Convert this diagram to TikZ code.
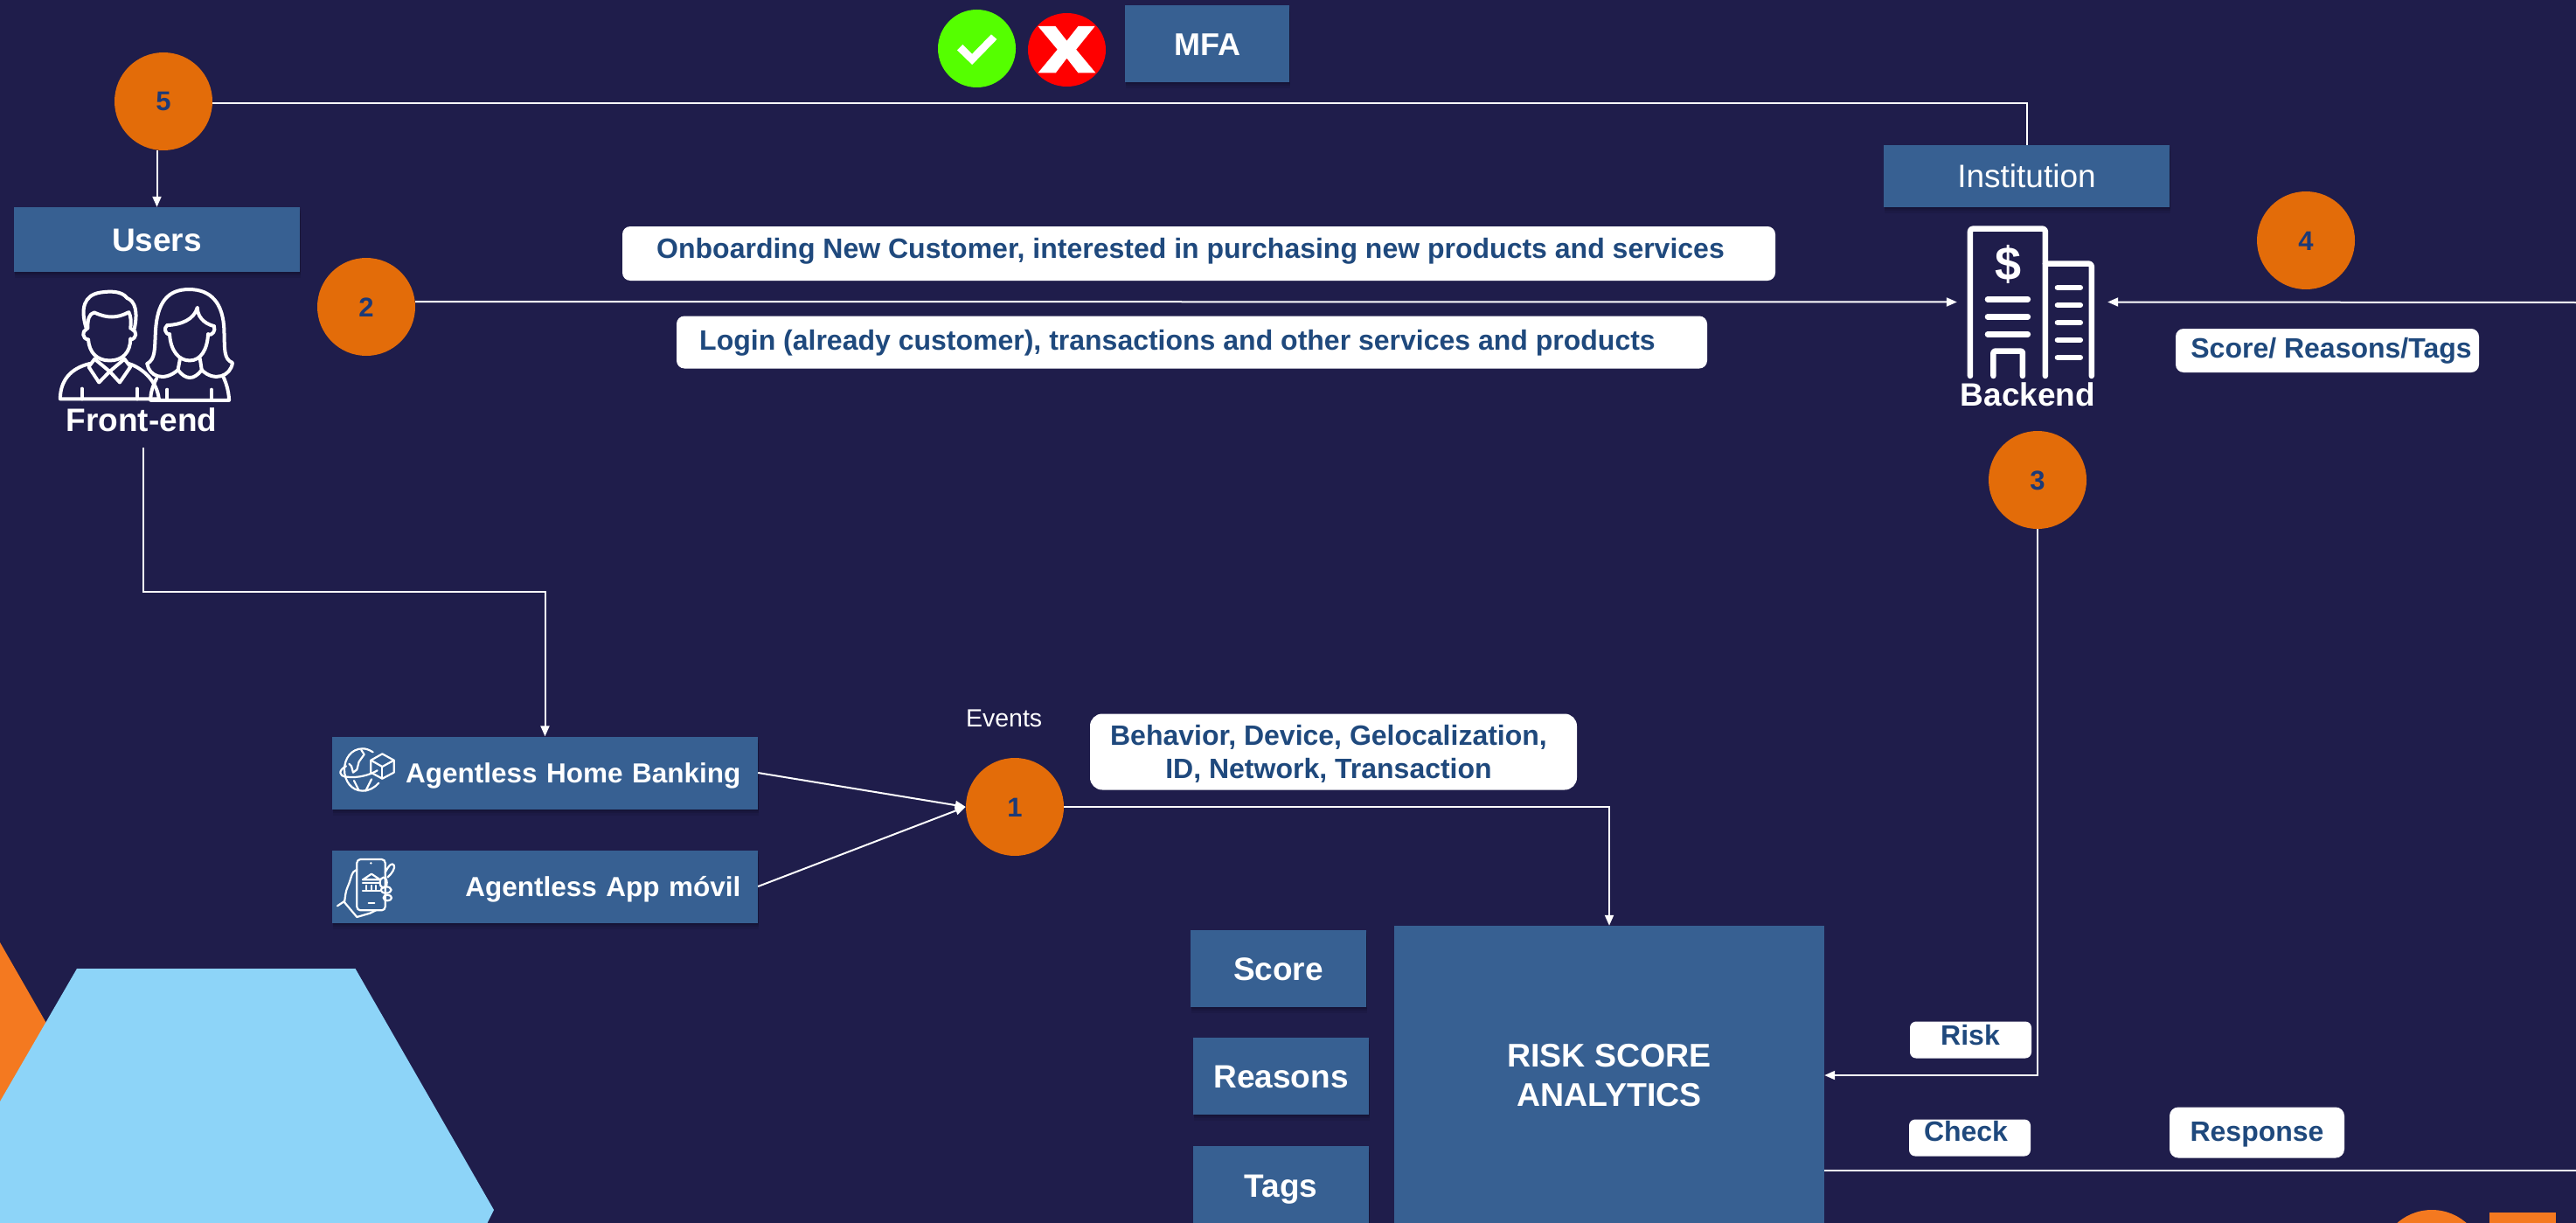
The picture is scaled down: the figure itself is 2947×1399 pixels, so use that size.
\documentclass[tikz,border=0pt]{standalone}
\usepackage{fontspec}
\setmainfont{Liberation Sans}
\usetikzlibrary{arrows.meta,shadows,shapes.geometric}
\definecolor{bgc}{HTML}{1F1D4B}
\definecolor{boxc}{HTML}{376092}
\definecolor{numc}{HTML}{E36C09}
\definecolor{lblc}{HTML}{1F497D}
\definecolor{digc}{HTML}{1C3A78}
\definecolor{orgc}{HTML}{F47920}
\definecolor{skyc}{HTML}{8DD4F8}
\definecolor{grnc}{HTML}{55FF00}
\newcommand{\fsz}[2]{\fontsize{#1pt}{#2pt}\selectfont}
\tikzset{
  softshade/.style={
    general shadow={fill=black,opacity=.07,shadow xshift=1pt,shadow yshift=-7pt},
    general shadow={fill=black,opacity=.09,shadow xshift=1pt,shadow yshift=-4pt},
    general shadow={fill=black,opacity=.10,shadow xshift=1pt,shadow yshift=-2pt}},
  bluebox/.style={rectangle,fill=boxc,softshade,text=white,inner sep=0pt,
    font=\bfseries\fsz{37}{44},text height=26.5pt,text depth=0pt},
  agentbox/.style={rectangle,fill=boxc,softshade,text=white,inner xsep=19.5pt,inner ysep=0pt,
    text width=448pt,align=right,minimum height=83pt,
    font=\bfseries\fsz{31.5}{38},text height=23pt,text depth=0pt},
  stepnum/.style={circle,fill=numc,minimum size=112pt,inner sep=0pt,text=digc,
    font=\bfseries\fsz{31}{36},text height=22pt,text depth=0pt},
  whitebox/.style={rectangle,rounded corners=9pt,fill=white,inner sep=0pt},
  lbl/.style={text=lblc,inner sep=0pt,font=\bfseries\fsz{32}{38},text height=23pt,text depth=0pt},
  lblmulti/.style={text=lblc,inner sep=0pt,align=center,font=\bfseries\fsz{32}{38}},
  iconlabel/.style={text=white,inner sep=0pt,font=\bfseries\fsz{37}{44},text height=26.5pt,text depth=0pt},
  conn/.style={draw=white,line width=2pt},
  arr/.style={conn,-{Triangle[length=12pt,width=10pt,fill=white]}},
  ico/.style={draw=white,line cap=round,line join=round},
}
\begin{document}
\begin{tikzpicture}[x=1pt,y=-1pt]
\useasboundingbox (0,0) rectangle (2947,1399);
\clip (0,0) rectangle (2947,1399);
\fill[bgc] (0,0) rectangle (2947,1399);

% decorative corner shapes
\fill[orgc] (0,1078) -- (70,1200) -- (0,1260) -- cycle;
\fill[skyc] (88,1108) -- (406.5,1108) -- (565,1384) -- (557.5,1399) -- (0,1399) -- (0,1260) -- cycle;
\fill[orgc] (2782,1444) circle [radius=60];
\fill[orgc] (2848,1387) rectangle (2924,1399);

% top: ok / fail / MFA
\node[ellipse,fill=grnc,minimum width=89pt,minimum height=89pt,inner sep=0pt] (okmark) at (1117.5,55.5) {};
\node[ellipse,fill=red,minimum width=89pt,minimum height=84pt,inner sep=0pt] (failmark) at (1220.5,57) {};
\begin{scope}[shift={(1000,0)},x=.3827pt,y=-.3333pt]
  \fill[white] (248,172) -- (265,153) -- (293,185) -- (350,118) -- (367,135) -- (293,222) -- cycle;
  \fill[white] (490,90) -- (542,90) -- (576,140) -- (610,90) -- (660,90) -- (604,170) -- (662,250)
     -- (610,250) -- (576,200) -- (543,250) -- (490,250) -- (548,170) -- cycle;
\end{scope}
\node[bluebox,minimum width=188pt,minimum height=88pt,font=\bfseries\fsz{36}{44}] (mfa) at (1381,50) {MFA};

% boxes
\node[bluebox,minimum width=327pt,minimum height=74pt] (users) at (179.5,274) {Users};
\node[bluebox,minimum width=327pt,minimum height=71pt,font=\fsz{37}{44}] (inst) at (2318.5,201.5) {Institution};
\node[agentbox] (hb) at (623.5,884) {Agentless Home Banking};
\node[agentbox] (app) at (623.5,1014) {Agentless App móvil};
\node[bluebox,minimum width=201pt,minimum height=88pt] (score) at (1462.5,1108) {Score};
\node[bluebox,minimum width=201pt,minimum height=88pt] (reasons) at (1465.5,1231) {Reasons};
\node[bluebox,minimum width=201pt,minimum height=90pt] (tags) at (1465.5,1356) {Tags};
\node[rectangle,fill=boxc,text=white,inner sep=0pt,minimum width=492pt,minimum height=342pt,align=center,
      font=\bfseries\fsz{37.5}{44.5}] (risk) at (1841,1230) {RISK SCORE\\ANALYTICS};

% numbered circles
\node[stepnum] (c5) at (187,116) {5};
\node[stepnum] (c2) at (419,351) {2};
\node[stepnum] (c4) at (2638,275) {4};
\node[stepnum] (c3) at (2331,549) {3};
\node[stepnum] (c1) at (1161,923) {1};

% white labels
\node[whitebox,minimum width=1319pt,minimum height=62pt] (onbbox) at (1371.5,290) {};
\node[lbl] (onbtxt) at (1362,284) {Onboarding New Customer, interested in purchasing new products and services};
\node[whitebox,minimum width=1179pt,minimum height=60pt] (logbox) at (1363.5,391.5) {};
\node[lbl] (logtxt) at (1347,389) {Login (already customer), transactions and other services and products};
\node[whitebox,rounded corners=14pt,minimum width=557pt,minimum height=87pt] (behbox) at (1525.5,860) {};
\node[lblmulti] (behtxt) at (1520,862) {Behavior, Device, Gelocalization,\\ID, Network, Transaction};
\node[whitebox,minimum width=347pt,minimum height=50pt] (srtbox) at (2662.5,401) {};
\node[lbl] (srttxt) at (2667,398) {Score/ Reasons/Tags};
\node[whitebox,rounded corners=7pt,minimum width=139pt,minimum height=42pt] (riskbox) at (2254.5,1189.5) {};
\node[lbl] (risktxt) at (2254,1184) {Risk};
\node[whitebox,rounded corners=7pt,minimum width=139pt,minimum height=42pt] (chkbox) at (2253.5,1301.5) {};
\node[lbl] (chktxt) at (2249,1294) {Check};
\node[whitebox,rounded corners=10pt,minimum width=200pt,minimum height=58pt] (resbox) at (2582,1295.5) {};
\node[lbl] (restxt) at (2582,1294) {Response};
\node[text=white,inner sep=0pt,font=\fsz{28.5}{34},text height=20.5pt,text depth=0pt] (events) at (1148.6,821) {Events};

% people icon
\begin{scope}[x=.3827pt,y=-.3571pt,ico,line width=4pt]
  \draw (258,1052) .. controls (240,990) and (250,945) .. (300,937) .. controls (330,932) and (365,932) .. (380,955)
        .. controls (405,965) and (412,1000) .. (402,1052);
  \draw (262,1052) .. controls (262,1025) and (265,1005) .. (282,1001) .. controls (320,1020) and (350,1020) .. (385,1000)
        .. controls (392,1015) and (392,1030) .. (390,1052);
  \draw (258,1055) .. controls (245,1060) and (245,1085) .. (264,1088);
  \draw (395,1055) .. controls (410,1060) and (410,1085) .. (390,1088);
  \draw (264,1088) .. controls (267,1130) and (290,1155) .. (328,1155) .. controls (365,1155) and (390,1130) .. (390,1085);
  \draw (283,1150) -- (265,1175) -- (296,1225) -- (328,1190) -- (358,1225) -- (390,1175) -- (372,1150);
  \draw (283,1150) -- (328,1190) -- (372,1150);
  \draw (268,1165) .. controls (210,1180) and (180,1220) .. (180,1278) -- (475,1278);
  \draw (385,1165) .. controls (430,1180) and (470,1225) .. (475,1278);
  \draw (245,1245) -- (245,1278);
  \draw (410,1245) -- (410,1278);
  \draw (440,1165) .. controls (465,1150) and (462,1120) .. (465,1060) .. controls (470,970) and (500,927) .. (565,927)
        .. controls (630,927) and (668,970) .. (670,1060) .. controls (672,1120) and (668,1150) .. (695,1162)
        .. controls (690,1205) and (640,1225) .. (603,1185);
  \draw (440,1165) .. controls (445,1205) and (490,1225) .. (532,1185);
  \draw (538,1150) -- (532,1185) .. controls (555,1218) and (580,1218) .. (603,1185) -- (598,1150);
  \draw (500,1042) .. controls (540,1040) and (580,1025) .. (590,985) .. controls (590,1010) and (605,1035) .. (640,1045);
  \draw (500,1042) .. controls (488,1050) and (495,1072) .. (507,1072);
  \draw (640,1045) .. controls (645,1060) and (635,1075) .. (622,1072);
  \draw (507,1070) .. controls (510,1125) and (535,1155) .. (567,1155) .. controls (600,1155) and (620,1120) .. (622,1070);
  \draw (468,1212) .. controls (455,1240) and (450,1260) .. (450,1282) -- (685,1282) .. controls (683,1250) and (677,1230) .. (668,1208);
  \draw (500,1248) -- (500,1280);
  \draw (632,1248) -- (632,1280);
\end{scope}
\node[iconlabel] (fe) at (162,480) {Front-end};

% building icon
\node[rectangle,inner sep=0pt,minimum width=172pt,minimum height=173pt] (bld) at (2325,345.5) {};
\begin{scope}[shift={(2100,150)},x=.5402pt,y=-.3333pt,ico,line width=6.5pt]
  \draw[rounded corners=3pt] (285,840) -- (285,335) -- (444,335) -- (444,840);
  \draw[rounded corners=3pt] (444,455) -- (542,455) -- (542,840);
  \draw (322,577) -- (407,577);
  \draw (322,637) -- (407,637);
  \draw (322,697) -- (407,697);
  \draw[rounded corners=2pt] (334,840) -- (334,755) -- (396,755) -- (396,840);
  \draw (470,537) -- (518,537);
  \draw (470,597) -- (518,597);
  \draw (470,657) -- (518,657);
  \draw (470,717) -- (518,717);
  \draw (470,777) -- (518,777);
\end{scope}
\node[text=white,inner sep=0pt,font=\bfseries\fsz{54}{60}] (dollar) at (2297,302) {\$};
\node[iconlabel] (be) at (2320,451) {Backend};

% globe + cube icon
\begin{scope}[shift={(380,843)},x=.3333pt,y=-.3333pt,ico,line width=2.2pt]
  \draw (140,52) .. controls (125,43) and (115,40) .. (105,40) .. controls (65,40) and (42,75) .. (42,112)
        .. controls (42,150) and (65,185) .. (105,185) .. controls (125,185) and (145,175) .. (160,158);
  \draw (48,100) .. controls (20,115) and (22,135) .. (50,137) .. controls (90,142) and (130,130) .. (155,115);
  \draw (100,45) -- (110,60) -- (92,85) -- (85,112) -- (72,122) -- (66,100) -- (58,92);
  \draw (75,150) -- (90,180);
  \draw (135,145) -- (125,165) -- (115,185);
  \draw (172,58) -- (212,80) -- (212,122) -- (172,143) -- (133,122) -- (133,80) -- cycle;
  \draw (133,80) -- (172,102) -- (212,80);
  \draw (172,102) -- (172,143);
\end{scope}

% phone in hand icon
\begin{scope}[shift={(380,973)},x=.3333pt,y=-.3333pt,ico,line width=2.2pt]
  \draw[rounded corners=4pt] (85,30) rectangle (182,205);
  \fill[white] (133,43) circle [radius=4];
  \draw (105,100) -- (135,80) -- (165,100) -- cycle;
  \draw (105,110) -- (165,110);
  \draw (118,120) -- (118,133);
  \draw (135,120) -- (135,133);
  \draw (150,120) -- (150,133);
  \draw (105,137) -- (165,137);
  \draw (125,180) -- (145,180);
  \draw (85,65) .. controls (65,70) and (65,100) .. (55,120) .. controls (45,140) and (45,160) .. (42,178);
  \draw (18,190) -- (40,175) -- (85,228) -- (130,215) -- (150,205);
  \draw (182,75) .. controls (195,50) and (205,40) .. (212,50) .. controls (218,58) and (205,80) .. (190,92);
  \draw (176,110) ellipse [x radius=12,y radius=18];
  \draw (185,135) ellipse [x radius=18,y radius=11];
  \draw (190,162) ellipse [x radius=14,y radius=10];
\end{scope}

% connectors
\coordinate (rin) at (2947,346);
\coordinate (rout) at (2947,1339);
\draw[arr] (users.north |- c5.south) -- (users.north);
\draw[conn] ([yshift=-2pt]c5.east) -| (inst.north);
\draw[arr] ([yshift=6pt]c2.east) -- (bld.west);
\draw[arr] (rin) -- (bld.east);
\draw[arr] ([xshift=2pt,yshift=-19pt]fe.south) -- ++(0,164.5) -| (hb.north);
\draw[arr] (hb.east) -- (c1.west);
\draw[arr] (app.east) -- (c1.west);
\draw[arr] (c1.east) -| (risk.north);
\draw[arr] (c3.south) |- (risk.east);
\draw[conn] (risk.east |- rout) -- (rout);
\end{tikzpicture}
\end{document}
